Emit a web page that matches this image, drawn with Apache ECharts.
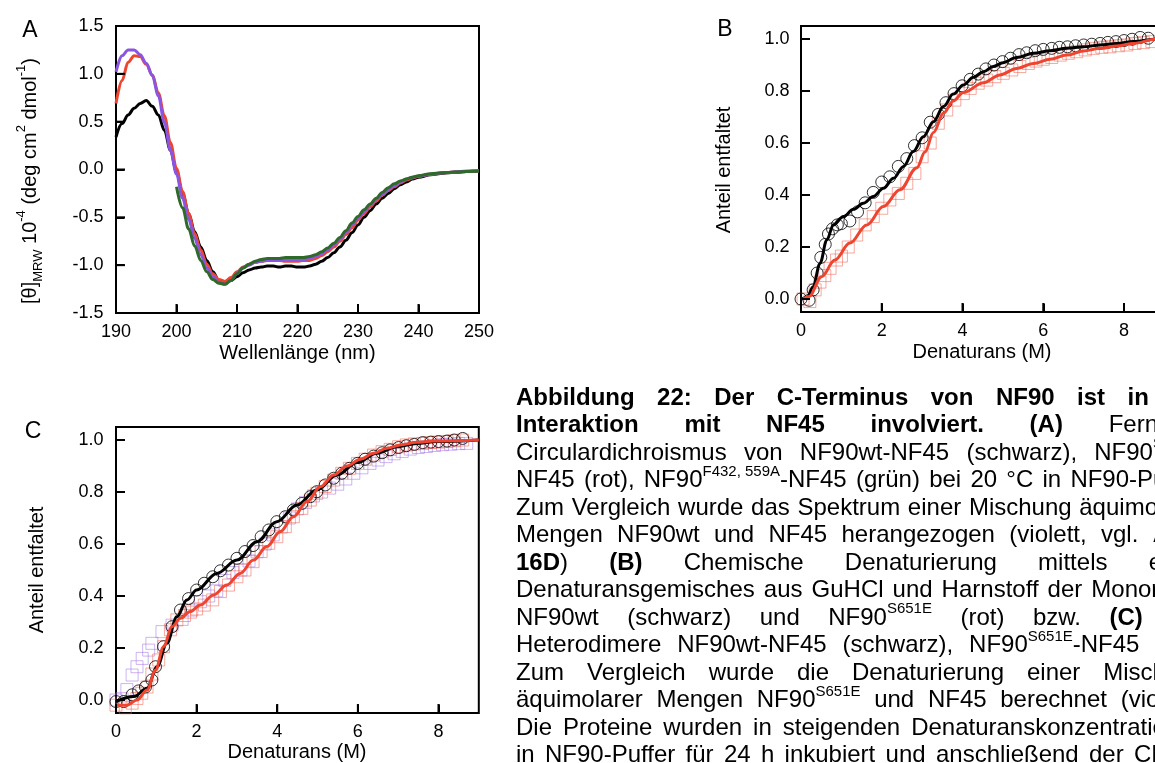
<!DOCTYPE html>
<html><head><meta charset="utf-8">
<script src="https://cdn.jsdelivr.net/npm/echarts@6/dist/echarts.min.js"></script>
<style>html,body{margin:0;padding:0;background:#fff;overflow:hidden;}#c,#t{position:absolute;left:0;top:0;width:1215px;height:763px;}#t{pointer-events:none;}</style>
</head><body><div id="c"></div><div id="t"></div>
<script>
// ---------- Panel A: CD spectra ----------
const wlA = [190,191,192,193,194,195,196,197,198,199,200,201,202,203,204,205,206,207,208,209,210,211,212,213,214,215,216,217,218,219,220,221,222,223,224,225,226,227,228,229,230,231,232,233,234,235,236,237,238,239,240,242,244,246,248,250];
const cdBlack = [0.34,0.48,0.57,0.64,0.69,0.72,0.66,0.57,0.41,0.20,-0.02,-0.25,-0.46,-0.65,-0.81,-0.95,-1.07,-1.16,-1.19,-1.16,-1.12,-1.08,-1.05,-1.03,-1.02,-1.01,-1.01,-1.02,-1.01,-1.01,-1.02,-1.02,-1.01,-0.99,-0.96,-0.92,-0.87,-0.81,-0.74,-0.66,-0.58,-0.50,-0.43,-0.36,-0.30,-0.25,-0.20,-0.16,-0.13,-0.10,-0.08,-0.055,-0.04,-0.03,-0.02,-0.015];
const cdRed = [0.69,0.93,1.12,1.19,1.18,1.10,0.99,0.80,0.56,0.28,0.01,-0.23,-0.46,-0.67,-0.84,-0.99,-1.09,-1.15,-1.17,-1.13,-1.07,-1.02,-0.99,-0.97,-0.96,-0.95,-0.95,-0.95,-0.96,-0.96,-0.96,-0.95,-0.95,-0.93,-0.90,-0.86,-0.81,-0.75,-0.68,-0.61,-0.53,-0.46,-0.39,-0.33,-0.27,-0.22,-0.18,-0.14,-0.11,-0.09,-0.07,-0.05,-0.035,-0.025,-0.017,-0.014];
const cdViolet = [1.02,1.19,1.25,1.25,1.20,1.11,0.98,0.77,0.49,0.20,-0.05,-0.30,-0.52,-0.72,-0.89,-1.03,-1.12,-1.18,-1.20,-1.16,-1.09,-1.03,-1.00,-0.97,-0.96,-0.95,-0.95,-0.94,-0.95,-0.94,-0.94,-0.94,-0.93,-0.91,-0.88,-0.84,-0.79,-0.73,-0.66,-0.58,-0.51,-0.44,-0.37,-0.31,-0.26,-0.21,-0.17,-0.13,-0.10,-0.08,-0.07,-0.05,-0.035,-0.025,-0.017,-0.014];
const wlGreen = [200,201,202,203,204,205,206,207,208,209,210,211,212,213,214,215,216,217,218,219,220,221,222,223,224,225,226,227,228,229,230,231,232,233,234,235,236,237,238,239,240,242,244,246,248,250];
const cdGreen = [-0.18,-0.40,-0.62,-0.80,-0.95,-1.07,-1.15,-1.19,-1.20,-1.16,-1.09,-1.03,-0.99,-0.96,-0.94,-0.93,-0.93,-0.93,-0.92,-0.92,-0.92,-0.92,-0.91,-0.89,-0.86,-0.82,-0.77,-0.71,-0.64,-0.56,-0.49,-0.42,-0.36,-0.30,-0.24,-0.19,-0.15,-0.12,-0.10,-0.08,-0.066,-0.045,-0.035,-0.025,-0.02,-0.015];
const ticksA_x = [190,200,210,220,230,240,250];
const ticksA_y = [-1.5,-1.0,-0.5,0,0.5,1.0,1.5];

// ---------- Panel B: monomers ----------
const bCircX = [0,0.2,0.3,0.4,0.49,0.6,0.68,0.78,0.9,1.0,1.21,1.4,1.59,1.79,2.0,2.2,2.41,2.62,2.81,3.0,3.2,3.4,3.59,3.79,3.99,4.19,4.39,4.58,4.78,4.99,5.19,5.4,5.59,5.8,6.0,6.21,6.4,6.6,6.8,7.0,7.2,7.41,7.6,7.8,8.0,8.2,8.4,8.6];
const bCircY = [0,-0.005,0.035,0.1,0.16,0.21,0.25,0.27,0.285,0.29,0.30,0.335,0.37,0.41,0.45,0.47,0.51,0.54,0.59,0.62,0.68,0.71,0.755,0.79,0.82,0.845,0.865,0.885,0.9,0.913,0.926,0.94,0.947,0.955,0.96,0.964,0.968,0.97,0.974,0.977,0.98,0.983,0.987,0.99,0.994,0.999,1.006,1.003];
const bSqX = [0.05,0.22,0.35,0.47,0.59,0.72,0.88,1.0,1.17,1.38,1.59,1.79,2.0,2.2,2.41,2.62,2.82,3.0,3.2,3.4,3.61,3.81,4.02,4.19,4.39,4.6,4.8,5.01,5.22,5.42,5.63,5.82,6.0,6.21,6.42,6.62,6.83,7.04,7.24,7.45,7.65,7.86,8.07,8.27,8.48,8.69];
const bSqY = [0,-0.01,0.035,0.065,0.09,0.118,0.15,0.165,0.2,0.246,0.285,0.317,0.349,0.381,0.406,0.445,0.483,0.547,0.6,0.676,0.727,0.765,0.79,0.81,0.83,0.842,0.855,0.868,0.881,0.894,0.906,0.915,0.922,0.929,0.938,0.945,0.951,0.958,0.964,0.968,0.97,0.974,0.977,0.983,0.986,0.99];
const bFitBlackX = [0,0.15,0.3,0.47,0.64,0.8,1.05,1.3,1.54,1.79,2.04,2.29,2.54,2.78,3.03,3.28,3.53,3.77,4.02,4.27,4.52,4.76,5.0,5.34,5.76,6.17,6.58,7.0,7.41,7.82,8.23,8.77,9.0];
const bFitBlackY = [0,0.005,0.047,0.137,0.227,0.285,0.317,0.345,0.368,0.394,0.426,0.464,0.51,0.567,0.624,0.682,0.74,0.788,0.823,0.853,0.874,0.894,0.909,0.929,0.945,0.955,0.964,0.97,0.977,0.983,0.99,0.999,1.0];
const bFitRedX = [0.05,0.2,0.51,0.84,1.21,1.63,2.04,2.45,2.87,3.07,3.28,3.53,3.77,4.02,4.52,4.93,5.34,5.76,6.17,6.58,7.0,7.41,7.82,8.23,8.77,9.0];
const bFitRedY = [0,0.01,0.086,0.15,0.215,0.285,0.356,0.42,0.505,0.565,0.64,0.715,0.762,0.794,0.832,0.862,0.887,0.906,0.922,0.938,0.954,0.964,0.973,0.983,0.999,1.0];

// ---------- Panel C: heterodimers ----------
const cCircX = [0,0.19,0.4,0.56,0.73,0.89,0.98,1.18,1.39,1.6,1.8,2.0,2.19,2.4,2.59,2.79,3.0,3.2,3.4,3.6,3.79,3.99,4.2,4.4,4.61,4.82,4.98,5.19,5.4,5.6,5.79,5.99,6.18,6.39,6.6,6.8,7.01,7.2,7.4,7.61,7.81,8.0,8.21,8.39,8.6];
const cCircY = [-0.006,-0.006,0.02,0.035,0.05,0.077,0.128,0.205,0.282,0.346,0.39,0.423,0.449,0.474,0.497,0.519,0.545,0.571,0.594,0.628,0.654,0.686,0.705,0.731,0.756,0.782,0.801,0.827,0.853,0.872,0.891,0.91,0.926,0.938,0.951,0.962,0.971,0.978,0.983,0.99,0.992,0.994,0.996,1.0,1.006];
const cRedSqX = [0,0.23,0.4,0.52,0.64,0.77,0.89,1.06,1.18,1.35,1.51,1.7,1.85,2.0,2.19,2.4,2.59,2.79,3.0,3.2,3.4,3.6,3.79,3.99,4.2,4.4,4.61,4.82,4.98,5.19,5.4,5.6,5.79,5.99,6.18,6.39,6.6,6.8,7.01,7.2,7.4,7.61,7.81,8.0,8.21,8.39,8.6];
const cRedSqY = [-0.02,-0.03,-0.012,0.006,0.026,0.05,0.1,0.154,0.205,0.27,0.308,0.325,0.338,0.35,0.365,0.385,0.417,0.442,0.474,0.5,0.532,0.571,0.603,0.628,0.667,0.705,0.737,0.769,0.795,0.821,0.846,0.872,0.891,0.91,0.926,0.942,0.955,0.964,0.974,0.981,0.985,0.987,0.99,0.992,0.994,0.997,1.0];
const cVioSqX = [0,0.15,0.27,0.4,0.52,0.65,0.81,0.89,1.14,1.39,1.64,1.88,2.09,2.3,2.5,2.7,2.9,3.1,3.3,3.5,3.7,3.9,4.1,4.3,4.5,4.7,4.9,5.1,5.3,5.5,5.7,5.9,6.1,6.3,6.5,6.7,6.9,7.1,7.3,7.5,7.7,7.9,8.1,8.3,8.5,8.7];
const cVioSqY = [0,0.005,0.04,0.096,0.128,0.16,0.192,0.218,0.263,0.288,0.31,0.346,0.378,0.40,0.42,0.46,0.49,0.50,0.535,0.57,0.60,0.635,0.665,0.70,0.735,0.76,0.785,0.80,0.815,0.83,0.85,0.872,0.893,0.91,0.923,0.936,0.947,0.956,0.965,0.971,0.975,0.979,0.982,0.984,0.986,0.987];
const cFitBlackX = [0,0.44,0.77,1.02,1.26,1.51,1.76,2.0,2.5,3.0,3.5,3.99,4.49,4.98,5.48,5.98,6.47,6.97,7.46,7.96,9.0];
const cFitBlackY = [-0.006,0.013,0.045,0.128,0.218,0.32,0.385,0.423,0.487,0.538,0.609,0.686,0.75,0.808,0.865,0.913,0.949,0.974,0.987,0.994,1.0];
const cFitRedX = [0,0.27,0.52,0.77,0.98,1.18,1.39,1.6,1.84,2.09,2.42,2.75,3.08,3.41,3.74,4.07,4.4,4.74,5.07,5.4,5.73,6.06,6.39,6.72,7.05,7.46,7.88,9.0];
const cFitRedY = [-0.02,-0.02,0,0.038,0.115,0.205,0.282,0.314,0.34,0.365,0.404,0.442,0.487,0.538,0.59,0.647,0.705,0.763,0.82,0.865,0.9,0.926,0.949,0.968,0.981,0.991,0.996,1.0];
const ticksDen_x = [0,2,4,6,8];
const ticksFrac_y = [0,0.2,0.4,0.6,0.8,1.0];

// ---------- Caption ----------
const captionLines = [
  "*Abbildung 22: Der C-Terminus von NF90 ist in die*",
  "*Interaktion mit NF45 involviert. (A)* Fern-UV-",
  "Circulardichroismus von NF90wt-NF45 (schwarz), NF90^{S651E}-",
  "NF45 (rot), NF90^{F432, 559A}-NF45 (grün) bei 20 °C in NF90-Puffer.",
  "Zum Vergleich wurde das Spektrum einer Mischung äquimolarer",
  "Mengen NF90wt und NF45 herangezogen (violett, vgl. *Abb.*",
  "*16D*) *(B)* Chemische Denaturierung mittels eines",
  "Denaturansgemisches aus GuHCl und Harnstoff der Monomere",
  "NF90wt (schwarz) und NF90^{S651E} (rot) bzw. *(C)* der",
  "Heterodimere NF90wt-NF45 (schwarz), NF90^{S651E}-NF45 (rot).",
  "Zum Vergleich wurde die Denaturierung einer Mischung",
  "äquimolarer Mengen NF90^{S651E} und NF45 berechnet (violett).",
  "Die Proteine wurden in steigenden Denaturanskonzentrationen",
  "in NF90-Puffer für 24 h inkubiert und anschließend der CD-Si-"
];

const FF = '"Liberation Sans", Arial, sans-serif';
const zip = (xs, ys) => xs.map((x, i) => [x, ys[i]]);

// caption layout (justified)
const CAP_L = 516, CAP_R = 1206, CAP_Y0 = 398, CAP_LH = 27.5, CAP_FS = 24, SUP_FS = 15;
const mctx = document.createElement('canvas').getContext('2d');
function segFont(seg) { return (seg.bold ? 'bold ' : '') + (seg.sup ? SUP_FS : CAP_FS) + 'px ' + FF; }
function segW(seg) { mctx.font = segFont(seg); return mctx.measureText(seg.t).width; }
function parseLine(s) {
  const words = []; let cur = [], bold = false, sup = false, buf = '';
  const flush = () => { if (buf) { cur.push({ t: buf, bold, sup }); buf = ''; } };
  for (let i = 0; i < s.length; i++) {
    const c = s[i];
    if (c === '*') { flush(); bold = !bold; continue; }
    if (c === '^' && s[i + 1] === '{') { flush(); sup = true; i++; continue; }
    if (c === '}' && sup) { flush(); sup = false; continue; }
    if (c === ' ' && !sup) { flush(); if (cur.length) { words.push(cur); cur = []; } continue; }
    buf += c;
  }
  flush(); if (cur.length) words.push(cur);
  return words;
}
const graphics = [];
captionLines.forEach((ln, li) => {
  const words = parseLine(ln);
  const ws = words.map(w => w.reduce((a, s) => a + segW(s), 0));
  const tot = ws.reduce((a, b) => a + b, 0);
  const gap = Math.max(5, (CAP_R - CAP_L - tot) / (words.length - 1));
  let x = CAP_L; const y = CAP_Y0 + li * CAP_LH;
  words.forEach((w, wi) => {
    let sx = x;
    w.forEach(seg => {
      graphics.push({ type: 'text', x: sx, y: seg.sup ? y - 9 : y, silent: true,
        style: { text: seg.t, font: segFont(seg), fill: '#000', textAlign: 'left', align: 'left', textVerticalAlign: 'middle', verticalAlign: 'middle' } });
      sx += segW(seg);
    });
    x += ws[wi] + gap;
  });
});

function mkLabel(text, x, y, size, rot) {
  return { type: 'text', x, y, rotation: rot || 0, silent: true,
    style: { text, font: size + 'px ' + FF, fill: '#000', textAlign: 'center', align: 'center', textVerticalAlign: 'middle', verticalAlign: 'middle' } };
}
graphics.push(mkLabel('A', 30, 31, 23));
graphics.push(mkLabel('B', 725, 30, 23));
graphics.push(mkLabel('C', 33, 432, 23));
graphics.push(mkLabel('Wellenlänge (nm)', 297.5, 353, 20));
graphics.push(mkLabel('Denaturans (M)', 982, 352, 20));
graphics.push(mkLabel('Denaturans (M)', 297, 752, 20));
graphics.push(mkLabel('Anteil entfaltet', 724, 170, 20, Math.PI / 2));
graphics.push(mkLabel('Anteil entfaltet', 37, 570, 20, Math.PI / 2));
graphics.push({ type: 'text', x: 30, y: 181, rotation: Math.PI / 2, silent: true,
  style: { text: '{m|[θ]}{sb|MRW}{m| 10}{sp|-4}{m| (deg cm}{sp|2}{m| dmol}{sp|-1}{m|)}',
    textAlign: 'center', align: 'center', textVerticalAlign: 'middle', verticalAlign: 'middle',
    rich: {
      m: { fontSize: 20, fontFamily: FF, fill: '#000', color: '#000', lineHeight: 30 },
      sp: { fontSize: 13, fontFamily: FF, fill: '#000', color: '#000', lineHeight: 14, verticalAlign: 'top' },
      sb: { fontSize: 13, fontFamily: FF, fill: '#000', color: '#000', lineHeight: 14, verticalAlign: 'bottom' }
    } } });

// ---------- axes (tick config as in the working test) ----------
const tickStyle = { show: true, inside: true, length: 9, lineStyle: { color: '#000', width: 2 } };
const labStyle = { show: true, color: '#000', fontSize: 18, fontFamily: FF };
const fmt1 = v => v.toFixed(1);
const gridBoxes = [
  { left: 116, top: 26, width: 363, height: 287 },
  { left: 801, top: 26, width: 363.4, height: 286 },
  { left: 116, top: 427, width: 362.8, height: 286 }
];
const grids = gridBoxes.map(g => ({ left: g.left, top: g.top, width: g.width, height: g.height, show: true, borderColor: '#000', borderWidth: 2 }));
const xAxes = [
  { gridIndex: 0, type: 'value', min: 190, max: 250, interval: 10, offset: 0.5, axisLine: { show: false, onZero: false }, axisTick: tickStyle, axisLabel: Object.assign({ margin: 10 }, labStyle), splitLine: { show: false } },
  { gridIndex: 1, type: 'value', min: 0, max: 9, interval: 2, offset: 0.5, axisLine: { show: false, onZero: false }, axisTick: Object.assign({ customValues: ticksDen_x }, tickStyle), axisLabel: Object.assign({ margin: 10, customValues: ticksDen_x }, labStyle), splitLine: { show: false } },
  { gridIndex: 2, type: 'value', min: 0, max: 9, interval: 2, offset: 0.5, axisLine: { show: false, onZero: false }, axisTick: Object.assign({ customValues: ticksDen_x }, tickStyle), axisLabel: Object.assign({ margin: 10, customValues: ticksDen_x }, labStyle), splitLine: { show: false } }
];
const yAxes = [
  { gridIndex: 0, type: 'value', min: -1.5, max: 1.5, interval: 0.5, offset: 0.5, axisLine: { show: false, onZero: false }, axisTick: tickStyle, axisLabel: Object.assign({ margin: 12, formatter: fmt1 }, labStyle), splitLine: { show: false } },
  { gridIndex: 1, type: 'value', min: -0.05, max: 1.05, offset: 0.5, axisLine: { show: false, onZero: false }, axisTick: Object.assign({ customValues: ticksFrac_y }, tickStyle), axisLabel: Object.assign({ margin: 11, formatter: fmt1, customValues: ticksFrac_y }, labStyle), splitLine: { show: false } },
  { gridIndex: 2, type: 'value', min: -0.05, max: 1.05, offset: 0.5, axisLine: { show: false, onZero: false }, axisTick: Object.assign({ customValues: ticksFrac_y }, tickStyle), axisLabel: Object.assign({ margin: 12, formatter: fmt1, customValues: ticksFrac_y }, labStyle), splitLine: { show: false } }
];

const RED = '#ef4530', VIO = '#8a55e0', GRN = '#2f6a2a';
function mkLine(gi, data, color) {
  return { type: 'line', xAxisIndex: gi, yAxisIndex: gi, data, showSymbol: false, symbol: 'none', smooth: 0.35, smoothMonotone: 'x',
    lineStyle: { color, width: 3 }, silent: true };
}
function mkPts(gi, data, sym, border) {
  return { type: 'scatter', xAxisIndex: gi, yAxisIndex: gi, data, symbol: sym, symbolSize: 12, silent: true,
    itemStyle: { color: 'rgba(0,0,0,0)', borderColor: border, borderWidth: 1 } };
}
// backup tick marks: short inward segments on each grid's own scales
function mkTicks(gi, xs, ys, xMin, xMax, yMin, yMax) {
  const b = gridBoxes[gi];
  const dy = (yMax - yMin) / b.height * 9, dx = (xMax - xMin) / b.width * 9;
  return xs.map(v => [[v, yMin], [v, yMin + dy]]).concat(ys.map(v => [[xMin, v], [xMin + dx, v]]))
    .map(seg => ({ type: 'line', xAxisIndex: gi, yAxisIndex: gi, data: seg, showSymbol: false, symbol: 'none', silent: true,
      lineStyle: { color: '#000', width: 2 } }));
}
const series = [
  mkLine(0, zip(wlA, cdBlack), '#000'),
  mkLine(0, zip(wlA, cdRed), RED),
  mkLine(0, zip(wlA, cdViolet), VIO),
  mkLine(0, zip(wlGreen, cdGreen), GRN),
  mkPts(1, zip(bSqX, bSqY), 'rect', 'rgba(240,90,70,0.65)'),
  mkPts(1, zip(bCircX, bCircY), 'circle', '#000'),
  mkLine(1, zip(bFitBlackX, bFitBlackY), '#000'),
  mkLine(1, zip(bFitRedX, bFitRedY), RED),
  mkPts(2, zip(cVioSqX, cVioSqY), 'rect', 'rgba(150,100,225,0.6)'),
  mkPts(2, zip(cRedSqX, cRedSqY), 'rect', 'rgba(240,90,70,0.65)'),
  mkPts(2, zip(cCircX, cCircY), 'circle', '#000'),
  mkLine(2, zip(cFitBlackX, cFitBlackY), '#000'),
  mkLine(2, zip(cFitRedX, cFitRedY), RED)
].concat(
  mkTicks(0, ticksA_x, ticksA_y, 190, 250, -1.5, 1.5),
  mkTicks(1, ticksDen_x, ticksFrac_y, 0, 9, -0.05, 1.05),
  mkTicks(2, ticksDen_x, ticksFrac_y, 0, 9, -0.05, 1.05)
);

// plots in one instance, all text (caption, titles) in a transparent overlay instance
const chart = echarts.init(document.getElementById('c'));
chart.setOption({ animation: false, backgroundColor: '#fff', grid: grids, xAxis: xAxes, yAxis: yAxes, series });
const textChart = echarts.init(document.getElementById('t'));
textChart.setOption({ animation: false, graphic: { elements: graphics } });
</script></body></html>
